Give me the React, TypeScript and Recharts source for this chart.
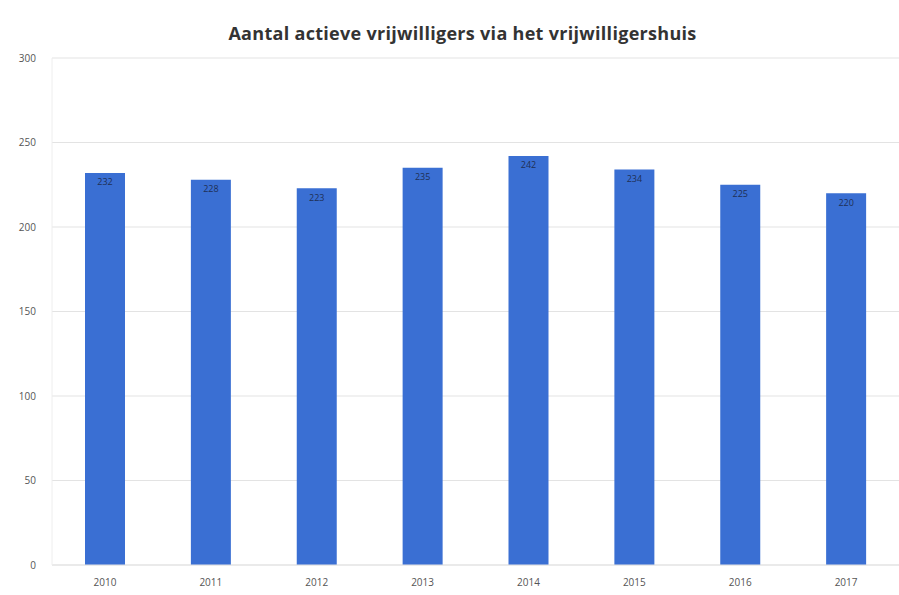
import { BarChart, Bar, XAxis, YAxis, CartesianGrid, LabelList } from "recharts"

const years = ["2010", "2011", "2012", "2013", "2014", "2015", "2016", "2017"]
const volunteers = [232, 228, 223, 235, 242, 234, 225, 220]
const yTicks = [0, 50, 100, 150, 200, 250, 300]

const data = years.map((year, i) => ({ year, volunteers: volunteers[i] }))

export default function App() {
  return (
    <div style={{ position: "absolute", left: 0, top: 0, width: 899, height: 595, background: "#fff", fontFamily: "'Open Sans', sans-serif" }}>
      <div style={{ position: "absolute", left: 0, top: 21, width: 925, textAlign: "center", fontSize: 18, fontWeight: 700, color: "#333", letterSpacing: 0.3 }}>
        Aantal actieve vrijwilligers via het vrijwilligershuis
      </div>
      <BarChart width={899} height={595} data={data} margin={{ top: 58, right: 0, bottom: 0, left: 4 }} barSize={40}>
        <CartesianGrid vertical={false} stroke="#e3e3e3" />
        <XAxis dataKey="year" height={30} tickLine={false} axisLine={{ stroke: "#e3e3e3" }} tick={{ fontSize: 10, fill: "#555" }} tickMargin={8} />
        <YAxis width={48} domain={[0, 300]} ticks={yTicks} tickLine={false} axisLine={{ stroke: "#eeeeee" }} tick={{ fontSize: 10, fill: "#555" }} tickMargin={10} />
        <Bar dataKey="volunteers" fill="#3a6fd3" isAnimationActive={false}>
          <LabelList dataKey="volunteers" position="insideTop" offset={6} style={{ fontSize: 9, fill: "#1f2f55" }} />
        </Bar>
      </BarChart>
    </div>
  )
}
